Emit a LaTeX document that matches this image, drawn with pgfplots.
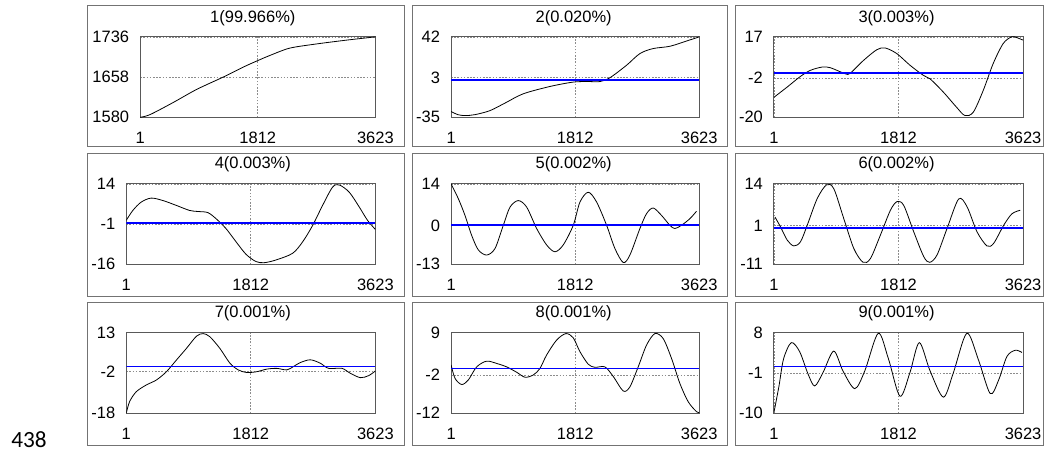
\documentclass[border=0pt]{standalone}
\usepackage{pgfplots}
\pgfplotsset{compat=1.18}
\usepackage{fontspec}
\setmainfont{Liberation Sans}
\newfontfamily\linefont{Carlito}
\definecolor{meanblue}{RGB}{0,0,255}
\begin{document}
\pgfplotsset{
  panel/.style={
    scale only axis, anchor=north west, height=60.5pt,
    xmin=1, xmax=3623, xtick={1,1812,3623}, xticklabels={1,1812,3623},
    major tick length=0pt,
    grid=major, major grid style={black!45, dash pattern=on 1.2pt off 1.2pt, line width=0.5pt},
    axis line style={black!65, line width=0.75pt},
    tick label style={font=\fontsize{12.4}{14}\selectfont},
    xticklabel style={yshift=-7.4pt},
    yticklabel style={xshift=-4.8pt},
    clip=true,
  },
  curve/.style={black, line width=0.6pt, smooth},
  meanline/.style={draw=meanblue, color=meanblue, line width=1pt, sharp plot, no markers},
}
\begin{tikzpicture}
\path[use as bounding box] (0,0) rectangle (784.5pt,-340.5pt);
% panel boxes
\foreach \xa/\xb in {63/301.5, 307.5/544.5, 550.5/782.25}{
  \foreach \ya/\yb in {3.75/110.25, 115.5/222.75, 227.25/335.25}{
    \draw[black!55, line width=0.6pt] (\xa pt,-\ya pt) rectangle (\xb pt,-\yb pt);
  }
}
% titles
\foreach \cx/\cy/\t in {187.5/16.8/{1(99.966\%)}, 429/16.8/{2(0.020\%)}, 672/16.8/{3(0.003\%)},
  187.5/127/{4(0.003\%)}, 429/127/{5(0.002\%)}, 672/127/{6(0.002\%)},
  187.5/239/{7(0.001\%)}, 429/239/{8(0.001\%)}, 672/239/{9(0.001\%)}}{
  \node[anchor=base, inner sep=0pt, font=\fontsize{12.4}{14}\selectfont] at (\cx pt,-\cy pt) {\t};
}
\node[anchor=base west, inner sep=0pt, font=\linefont\fontsize{17.5}{20}\selectfont] at (5.5pt,-336.5pt) {438};

% Panel 1
\begin{axis}[panel, at={(102.75pt,-27.75pt)}, width=177pt,
  ymin=1580, ymax=1736, ytick={1580,1658,1736}, yticklabels={1580,1658,1736}]
\addplot[curve] coordinates {(1,1580) (150,1585) (500,1608) (870,1634) (1280,1658) (1600,1678) (1812,1690) (2000,1700) (2300,1714) (2700,1722) (3200,1730) (3623,1736)};
\end{axis}

% Panel 2
\begin{axis}[panel, at={(336.75pt,-27.75pt)}, width=186.75pt,
  ymin=-35, ymax=42, ytick={-35,3,42}, yticklabels={-35,3,42}]
\addplot[curve] coordinates {(1,-29.5) (100,-32.5) (204,-33.4) (350,-32.5) (570,-28.6) (800,-21) (1055,-12.5) (1445,-5.5) (1785,-1.3) (2000,-0.8) (2175,-0.8) (2320,2.9) (2560,14.7) (2757,26) (2950,30.8) (3195,33) (3437,38) (3623,42)};
\addplot[meanline] coordinates {(1,0.6) (3623,0.6)};
\end{axis}

% Panel 3
\begin{axis}[panel, at={(579.75pt,-27.75pt)}, width=187.5pt,
  ymin=-20, ymax=17, ytick={-20,-2,17}, yticklabels={-20,-2,17}]
\addplot[curve] coordinates {(1,-10.8) (193,-6.1) (386,-1.2) (531,1.6) (700,3.1) (821,2.8) (1039,0) (1111,0.3) (1304,6.2) (1497,11.1) (1618,11.9) (1787,9.3) (1980,3.9) (2173,-0.7) (2270,-2.3) (2463,-8.4) (2656,-15.4) (2777,-19.2) (2898,-17.7) (3043,-7.7) (3188,4.7) (3333,13.9) (3453,17) (3526,16.7) (3623,15.5)};
\addplot[meanline] coordinates {(1,0.3) (3623,0.3)};
\end{axis}

% Panel 4
\begin{axis}[panel, at={(92.25pt,-138.4pt)}, width=187.5pt,
  ymin=-16, ymax=14, ytick={-16,-1,14}, yticklabels={-16,-1,14}]
\addplot[curve] coordinates {(1,0.4) (97,4.1) (218,7.2) (363,8.7) (532,7.8) (726,6.0) (920,4.1) (1041,3.7) (1186,3.3) (1307,1.0) (1452,-2.7) (1597,-7.6) (1743,-12.3) (1888,-15.0) (2009,-15.4) (2178,-14.4) (2420,-11.9) (2566,-7.6) (2711,-1.5) (2856,6.0) (3001,12.8) (3098,13.6) (3243,10.9) (3388,5.4) (3509,0.4) (3623,-3.0)};
\addplot[meanline] coordinates {(1,-0.6) (3623,-0.6)};
\end{axis}

% Panel 5
\begin{axis}[panel, at={(336.75pt,-138.4pt)}, width=186.75pt,
  ymin=-13, ymax=14, ytick={-13,0,14}, yticklabels={-13,0,14}]
\addplot[curve] coordinates {(1,14) (107,9) (204,3.4) (301,-3.3) (399,-8.2) (520,-9.9) (642,-7.7) (763,0.1) (861,6.2) (982,8.4) (1104,6.2) (1250,-1) (1395,-6.5) (1517,-8.8) (1638,-6.5) (1784,0.1) (1882,7.9) (2003,11.2) (2125,7.9) (2271,0.1) (2392,-7.7) (2514,-12.4) (2611,-9.9) (2757,-1) (2854,4) (2951,5.9) (3073,3.4) (3194,0.1) (3267,-1) (3364,0.1) (3486,2.3) (3583,4.8)};
\addplot[meanline] coordinates {(1,0.2) (3623,0.2)};
\end{axis}

% Panel 6
\begin{axis}[panel, at={(579.75pt,-138.4pt)}, width=187.5pt,
  ymin=-11, ymax=14, ytick={-11,1,14}, yticklabels={-11,1,14}]
\addplot[curve] coordinates {(15,3.7) (97,0.6) (194,-3.5) (290,-5.3) (387,-4) (484,1.1) (629,9.4) (765,13.7) (871,12.5) (1016,3.2) (1162,-6.1) (1297,-10.4) (1404,-9.2) (1549,-1.9) (1694,5.8) (1791,8.5) (1888,7.3) (2033,-0.9) (2178,-8.6) (2265,-10.4) (2372,-8.1) (2517,0.1) (2686,9.3) (2808,6.9) (2953,-0.9) (3098,-5.3) (3195,-4.5) (3340,1.1) (3461,4.7) (3582,5.8)};
\addplot[meanline] coordinates {(1,0.3) (3623,0.3)};
\end{axis}

% Panel 7
\begin{axis}[panel, at={(92.25pt,-250.5pt)}, width=187.5pt,
  ymin=-18, ymax=13, ytick={-18,-2,13}, yticklabels={-18,-2,13}]
\addplot[curve] coordinates {(1,-18) (50,-13.5) (147,-9.7) (293,-7.1) (439,-5.2) (585,-2) (730,2.5) (876,7) (1022,11.7) (1119,12.7) (1216,11.5) (1362,7) (1508,1.3) (1630,-1.3) (1751,-2.3) (1897,-2) (2043,-1) (2189,-0.7) (2335,-1.3) (2432,0) (2529,1.5) (2675,2.6) (2821,1.3) (2942,-0.7) (3137,-0.7) (3259,-2.6) (3405,-4.3) (3526,-3.5) (3623,-1.7)};
\addplot[meanline] coordinates {(1,0) (3623,0)};
\end{axis}

% Panel 8
\begin{axis}[panel, at={(336.75pt,-250.5pt)}, width=186.75pt,
  ymin=-12, ymax=9, ytick={-12,-2,9}, yticklabels={-12,-2,9}]
\addplot[curve] coordinates {(1,0.6) (58,-2.9) (156,-4.5) (253,-3.3) (374,0.1) (520,1.6) (666,1) (812,0.1) (958,-1.3) (1079,-2.6) (1201,-2) (1298,-0.3) (1395,3.2) (1541,7.1) (1677,8.8) (1784,7.7) (1881,4.1) (2003,0.8) (2100,0) (2246,0.1) (2368,-2.4) (2514,-6.2) (2611,-5.1) (2732,0.1) (2854,5.8) (2976,8.8) (3097,7.5) (3219,2.3) (3340,-4.2) (3462,-9) (3583,-11.6) (3623,-11.8)};
\addplot[meanline] coordinates {(1,-0.3) (3623,-0.3)};
\end{axis}

% Panel 9
\begin{axis}[panel, at={(579.75pt,-250.5pt)}, width=187.5pt,
  ymin=-10, ymax=8, ytick={-10,-1,8}, yticklabels={-10,-1,8}]
\addplot[curve] coordinates {(1,-9.8) (73,-4) (141,2.2) (253,5.8) (374,3.8) (496,-1.2) (593,-3.9) (714,-0.9) (870,3.9) (1006,-0.6) (1177,-4.5) (1322,-0.5) (1517,7.9) (1663,2.3) (1833,-6.2) (1978,-0.9) (2114,5.8) (2270,-0.5) (2464,-6.4) (2610,-0.9) (2805,7.9) (2975,1.9) (3145,-5.6) (3267,-2.6) (3388,2.7) (3510,4.1) (3607,3.6)};
\addplot[meanline] coordinates {(1,0.45) (3623,0.45)};
\end{axis}
\end{tikzpicture}
\end{document}
